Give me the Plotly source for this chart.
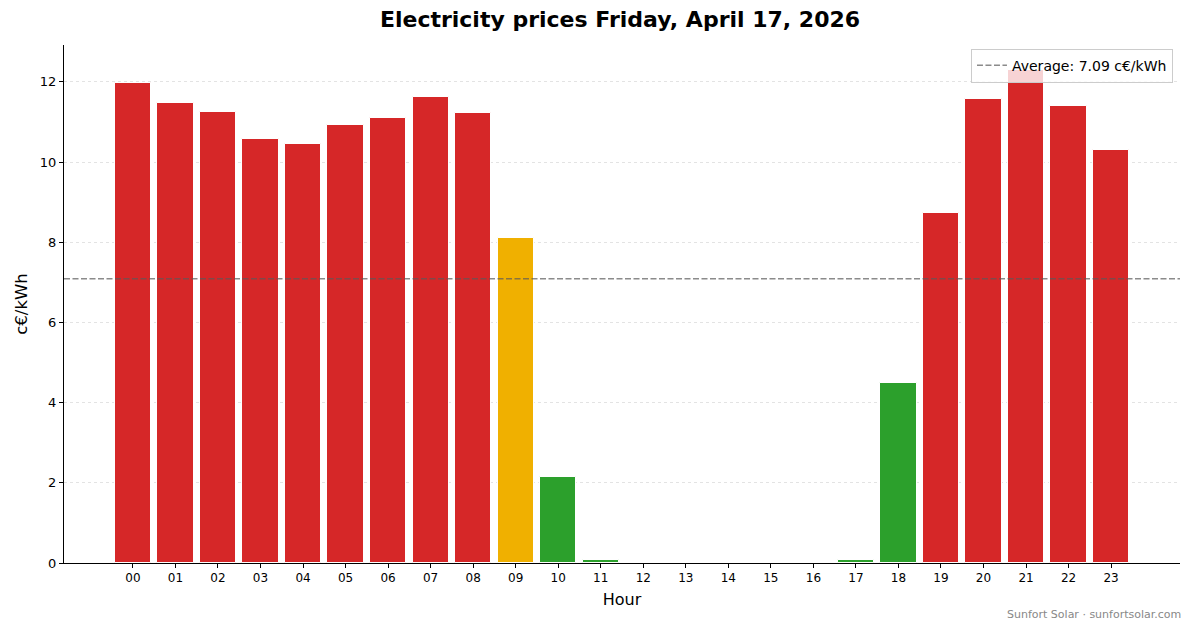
import plotly.graph_objects as go

HOURS = [f"{h:02d}" for h in range(24)]
PRICES = [11.98, 11.48, 11.25, 10.58, 10.45, 10.93, 11.10, 11.63, 11.23, 8.11,
          2.15, 0.08, 0.0, 0.0, 0.0, 0.0, 0.0, 0.08, 4.49, 8.73,
          11.58, 12.30, 11.40, 10.30]
AVERAGE = 7.09

RED = "#d62728"
ORANGE = "#f0b000"
GREEN = "#2ca02c"
AVG_COLOR = "rgba(90,90,90,0.7)"
FONT = "DejaVu Sans"

# page body has an 8px margin, so the figure is a bit smaller than the window
W, H = 1185, 620


def price_color(p):
    if p < 5:
        return GREEN
    if p < 8.5:
        return ORANGE
    return RED


colors = [price_color(p) for p in PRICES]
xs = list(range(len(HOURS)))

fig = go.Figure()
fig.add_trace(go.Bar(x=xs, y=PRICES, width=0.85, marker_color=colors,
                     marker_line=dict(color="white", width=1),
                     showlegend=False, hoverinfo="x+y"))

# average line + legend entry
fig.add_hline(y=AVERAGE, line_dash="6px,2.5px", line_color=AVG_COLOR, line_width=1.5)
fig.add_trace(go.Scatter(x=[None], y=[None], mode="lines",
                         name=f"Average: {AVERAGE:.2f} c€/kWh",
                         line=dict(color=AVG_COLOR, dash="6px,2.5px", width=1.5)))

fig.update_layout(
    width=W, height=H,
    paper_bgcolor="white", plot_bgcolor="white",
    margin=dict(l=53, r=13, t=37, b=65),
    font=dict(family=FONT, color="black"),
    title=dict(text="<b>Electricity prices Friday, April 17, 2026</b>",
               x=612 / W, xanchor="center", y=1 - 11 / H, yanchor="middle",
               font=dict(size=22, family=FONT)),
    showlegend=True,
    legend=dict(x=0.9937, y=0.993, xanchor="right", yanchor="top",
                bgcolor="rgba(255,255,255,0.8)", bordercolor="#cccccc",
                borderwidth=1, font=dict(size=14, family=FONT)),
    bargap=0,
)

fig.update_xaxes(range=[-1.62, 24.62], tickmode="array", tickvals=xs,
                 ticktext=HOURS, showline=True, linecolor="black", linewidth=1,
                 ticks="outside", ticklen=4, tickcolor="black",
                 showgrid=False, zeroline=False,
                 tickfont=dict(size=12),
                 title=dict(text="Hour", font=dict(size=16), standoff=9))
fig.update_yaxes(range=[0, 12.92], tickvals=[0, 2, 4, 6, 8, 10, 12],
                 showline=True, linecolor="black", linewidth=1,
                 ticks="outside", ticklen=4, tickcolor="black",
                 showgrid=True, gridcolor="#e3e3e3", griddash="dot", gridwidth=1,
                 zeroline=False, tickfont=dict(size=13),
                 title=dict(text="c€/kWh", font=dict(size=16.5), standoff=8))

fig.add_annotation(text="Sunfort Solar · sunfortsolar.com", xref="paper", yref="paper",
                   x=1, y=0, xanchor="right", yanchor="top",
                   showarrow=False, xshift=3, yshift=-43,
                   font=dict(size=11, color="#888888", family=FONT))

fig.write_html("out.html")
